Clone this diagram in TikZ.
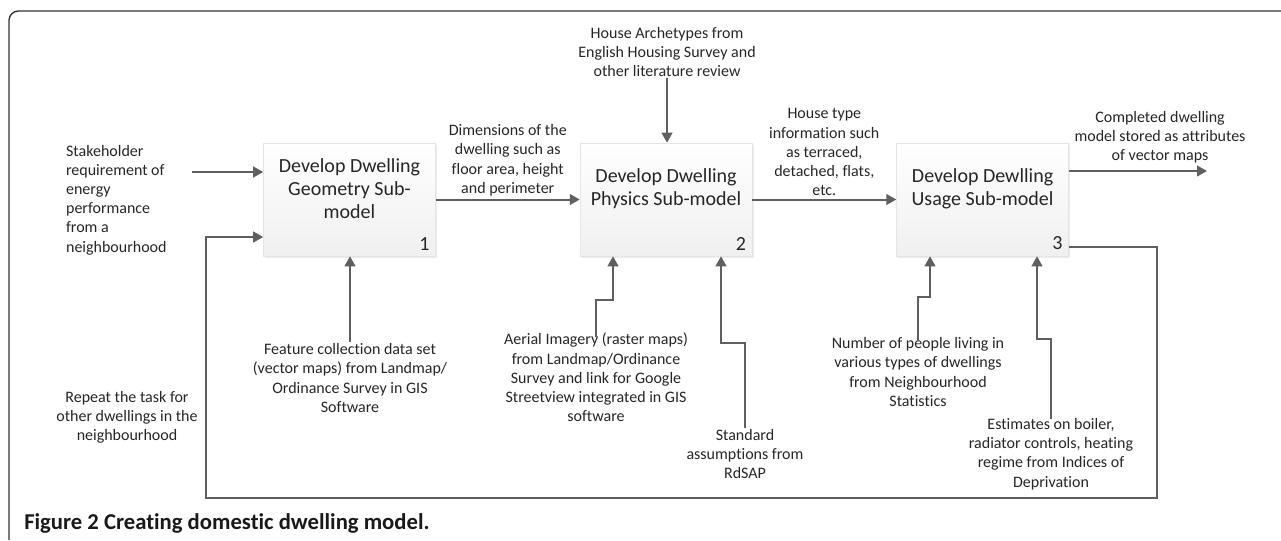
\documentclass[tikz,border=0pt]{standalone}
\usepackage{fontspec}
\setmainfont{Carlito}[Ligatures=NoCommon]
\usepackage{xcolor}
\usetikzlibrary{arrows.meta, positioning, shadows}

\definecolor{linegrey}{HTML}{5F5F5F}
\definecolor{textgrey}{HTML}{262626}

\begin{document}
\begin{tikzpicture}[
    x=0.75pt, y=-0.75pt,
    subbox/.style={rectangle, draw=black!10, top color=white, bottom color=black!6, minimum width=129pt, minimum height=84.75pt, drop shadow={opacity=0.15, shadow xshift=1.2pt, shadow yshift=-1.2pt}},
    boxtitle/.style={align=center, font=\fontsize{15}{17.25}\selectfont, text=textgrey, inner sep=0pt},
    boxnum/.style={anchor=south east, font=\fontsize{15}{17.25}\selectfont, text=textgrey, inner sep=4.5pt},
    lbl/.style={align=center, font=\fontsize{12}{14.4}\selectfont, text=textgrey, inner sep=1pt},
    arrow/.style={-{Triangle[length=7.5pt, width=8pt]}, line width=1.5pt, draw=linegrey},
    frame/.style={line width=1pt, draw=black!80, rounded corners=7pt},
]
    \useasboundingbox (0,0) rectangle (1281,540);
    \draw[frame] (1281,11) -- (9,11) -- (9,540);

    \node[subbox] (geo) at (349.5,199.5) {};
    \node[subbox, right=108pt of geo] (phys) {};
    \node[subbox, right=108pt of phys] (usage) {};

    \node[boxtitle] (geotitle) at ([yshift=8pt]geo.center) {Develop Dwelling\\Geometry Sub-\\model};
    \node[boxtitle] (phystitle) at ([yshift=8pt]phys.center) {Develop Dwelling\\Physics Sub-model};
    \node[boxtitle] (usagetitle) at ([yshift=8pt]usage.center) {Develop Dewlling\\Usage Sub-model};
    \node[boxnum] (geonum) at (geo.south east) {1};
    \node[boxnum] (physnum) at (phys.south east) {2};
    \node[boxnum] (usagenum) at (usage.south east) {3};

    \node[lbl, align=left, anchor=west] (stake) at (64.5,200) {Stakeholder\\requirement of\\energy\\performance\\from a\\neighbourhood};
    \node[lbl] (rep) at (127,417.5) {Repeat the task for\\other dwellings in the\\neighbourhood};
    \node[lbl] (arch) at (667,52) {House Archetypes from\\English Housing Survey and\\other literature review};
    \node[lbl] (feat) at (350,378) {Feature collection data set\\(vector maps) from Landmap/\\Ordinance Survey in GIS\\Software};
    \node[lbl] (aer) at (596,377.5) {Aerial Imagery (raster maps)\\from Landmap/Ordinance\\Survey and link for Google\\Streetview integrated in GIS\\software};
    \node[lbl] (std) at (745,454) {Standard\\assumptions from\\RdSAP};
    \node[lbl] (ppl) at (918,372) {Number of people living in\\various types of dwellings\\from Neighbourhood\\Statistics};
    \node[lbl] (est) at (1051,454) {Estimates on boiler,\\radiator controls, heating\\regime from Indices of\\Deprivation};

    \node[anchor=base west, font=\fontsize{17}{20}\selectfont\bfseries, text=black!90, inner sep=0pt] (caption) at (24,529) {Figure 2 Creating domestic dwelling model.};

    \coordinate (sin) at (192,172);
    \coordinate (out) at (1207,171);
    \coordinate (fbr) at (1157,498);
    \coordinate (fbl) at (206,237);
    \coordinate (aerj) at (613,300);
    \coordinate (stdj) at (721,343);
    \coordinate (pplj) at (930,297);
    \coordinate (estj) at (1037,339);

    \draw[arrow] (sin) -- (sin -| geo.west);
    \draw[arrow] (geo) -- node[lbl, above=1pt] (dims) {Dimensions of the\\dwelling such as\\floor area, height\\and perimeter} (phys);
    \draw[arrow] (phys) -- node[lbl, above=1pt] (htype) {House type\\information such\\as terraced,\\detached, flats,\\etc.} (usage);
    \draw[arrow] (out -| usage.east) -- node[lbl, above=4pt, pos=0.66] (done) {Completed dwelling\\model stored as attributes\\of vector maps} (out);
    \draw[arrow] ([yshift=-35.6pt]usage.east) -| (fbr) -| (fbl) -- (fbl -| geo.west);

    \draw[arrow] (arch) -- (arch |- phys.north);
    \draw[arrow] (feat) -- (feat |- geo.south);
    \draw[arrow] ([yshift=-4pt]aer.north) |- (aerj) -- (aerj |- phys.south);
    \draw[arrow] (std.north) |- (stdj) -- (stdj |- phys.south);
    \draw[arrow] ([yshift=-4pt]ppl.north) |- (pplj) -- (pplj |- usage.south);
    \draw[arrow] ([yshift=-2pt]est.north) |- (estj) -- (estj |- usage.south);
\end{tikzpicture}
\end{document}
